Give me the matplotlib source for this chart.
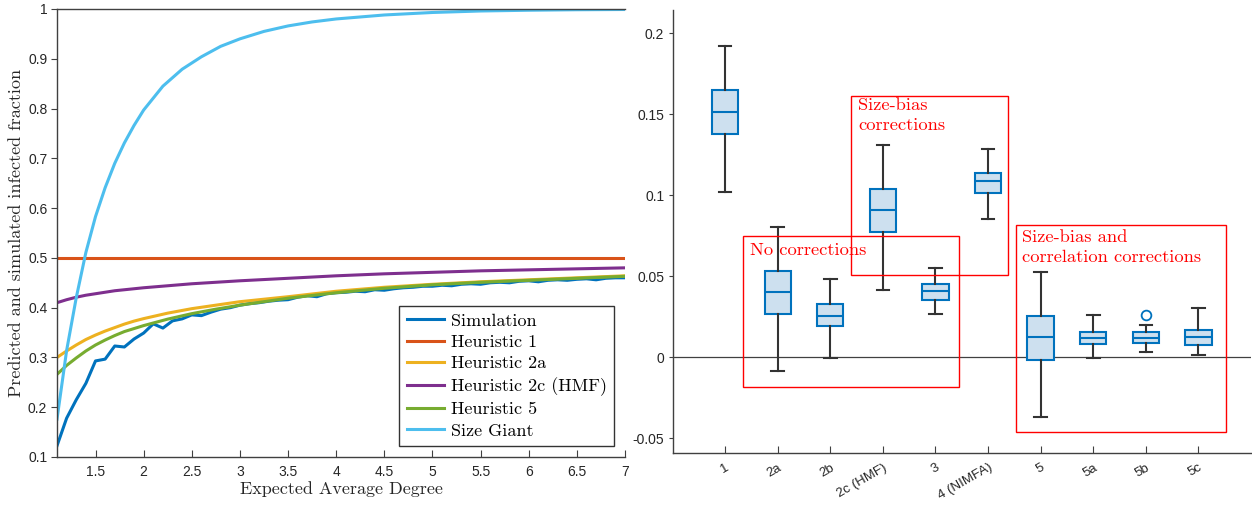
import matplotlib
matplotlib.use("Agg")
import matplotlib.pyplot as plt
from matplotlib.patches import Rectangle
from matplotlib.ticker import FixedLocator, FixedFormatter

plt.rcParams['axes.unicode_minus'] = False
plt.rcParams['font.family'] = ['Liberation Sans', 'DejaVu Sans']

SERIF = 'cmr10'

# ---------------- Left panel data ----------------
sim_x = [1.1, 1.2, 1.3, 1.4, 1.5, 1.6, 1.7, 1.8, 1.9, 2.0,
         2.1, 2.2, 2.3, 2.4, 2.5, 2.6, 2.7, 2.8, 2.9, 3.0,
         3.1, 3.2, 3.3, 3.4, 3.5, 3.6, 3.7, 3.8, 3.9, 4.0,
         4.1, 4.2, 4.3, 4.4, 4.5, 4.6, 4.7, 4.8, 4.9, 5.0,
         5.1, 5.2, 5.3, 5.4, 5.5, 5.6, 5.7, 5.8, 5.9, 6.0,
         6.1, 6.2, 6.3, 6.4, 6.5, 6.6, 6.7, 6.8, 6.9, 7.0]
simulation = [0.1225, 0.178, 0.215, 0.248, 0.293, 0.2966, 0.323, 0.321, 0.337, 0.349,
              0.3675, 0.359, 0.3735, 0.3775, 0.3855, 0.384, 0.391, 0.397, 0.400, 0.405,
              0.408, 0.410, 0.413, 0.415, 0.416, 0.421, 0.424, 0.422, 0.428, 0.430,
              0.431, 0.433, 0.432, 0.436, 0.435, 0.438, 0.440, 0.441, 0.443, 0.443,
              0.445, 0.444, 0.447, 0.448, 0.447, 0.450, 0.451, 0.450, 0.453, 0.454,
              0.452, 0.455, 0.456, 0.455, 0.457, 0.458, 0.456, 0.459, 0.460, 0.460]

curve_x = [1.1, 1.2, 1.3, 1.4, 1.5, 1.6, 1.7, 1.8, 1.9, 2.0,
           2.25, 2.5, 2.75, 3.0, 3.5, 4.0, 4.5, 5.0, 5.5, 6.0, 6.5, 7.0]
heuristic_1 = [0.5] * len(curve_x)
heuristic_2a = [0.300, 0.313, 0.325, 0.336, 0.345, 0.353, 0.360, 0.367, 0.373, 0.378,
                0.389, 0.398, 0.405, 0.412, 0.422, 0.433, 0.441, 0.447, 0.452, 0.456, 0.460, 0.464]
heuristic_2c = [0.410, 0.416, 0.421, 0.425, 0.428, 0.431, 0.434, 0.436, 0.438, 0.440,
                0.444, 0.448, 0.451, 0.454, 0.459, 0.464, 0.468, 0.471, 0.474, 0.476, 0.478, 0.480]
heuristic_5 = [0.266, 0.284, 0.299, 0.313, 0.325, 0.335, 0.344, 0.352, 0.358, 0.364,
               0.377, 0.388, 0.397, 0.405, 0.419, 0.430, 0.439, 0.446, 0.451, 0.455, 0.459, 0.463]

giant_x = [1.1, 1.2, 1.3, 1.4, 1.5, 1.6, 1.7, 1.8, 1.9, 2.0,
           2.2, 2.4, 2.6, 2.8, 3.0, 3.25, 3.5, 3.75, 4.0, 4.5, 5.0, 5.5, 6.0, 6.5, 7.0]
size_giant = [0.176, 0.314, 0.420, 0.511, 0.583, 0.641, 0.690, 0.731, 0.766, 0.797,
              0.845, 0.879, 0.904, 0.925, 0.940, 0.955, 0.966, 0.974, 0.980, 0.988,
              0.993, 0.996, 0.9975, 0.9985, 0.999]

left_xticks = [1.5, 2, 2.5, 3, 3.5, 4, 4.5, 5, 5.5, 6, 6.5, 7]
left_xticklabels = ['1.5', '2', '2.5', '3', '3.5', '4', '4.5', '5', '5.5', '6', '6.5', '7']
left_yticks = [0.1, 0.2, 0.3, 0.4, 0.5, 0.6, 0.7, 0.8, 0.9, 1.0]
left_yticklabels = ['0.1', '0.2', '0.3', '0.4', '0.5', '0.6', '0.7', '0.8', '0.9', '1']

# ---------------- Right panel data ----------------
box_labels = ['1', '2a', '2b', '2c (HMF)', '3', '4 (NIMFA)', '5', '5a', '5b', '5c']
whis_hi = [0.192, 0.0806, 0.0483, 0.131, 0.0553, 0.1285, 0.0526, 0.0262, 0.0198, 0.0303]
q3 = [0.165, 0.0534, 0.0326, 0.104, 0.0450, 0.1140, 0.0254, 0.0157, 0.0155, 0.0169]
median = [0.1514, 0.0404, 0.0256, 0.0908, 0.0408, 0.1091, 0.0124, 0.0118, 0.0120, 0.0124]
q1 = [0.1378, 0.0266, 0.0192, 0.0772, 0.0351, 0.1017, -0.0019, 0.0080, 0.0087, 0.0074]
whis_lo = [0.1023, -0.0087, -0.0004, 0.0417, 0.0264, 0.0856, -0.0369, -0.0006, 0.0033, 0.0014]
outliers = [[], [], [], [], [], [], [], [], [0.026], []]

right_yticks = [-0.05, 0, 0.05, 0.1, 0.15, 0.2]
right_yticklabels = ['-0.05', '0', '0.05', '0.1', '0.15', '0.2']

# ---------------- Colors ----------------
C_SIM = '#0072BD'
C_H1 = '#D95319'
C_H2A = '#EDB120'
C_H2C = '#7E2F8E'
C_H5 = '#77AC30'
C_GIANT = '#4DBEEE'
AX_COL = '#404040'

fig = plt.figure(figsize=(12.52, 5.05), dpi=100)

# ---------------- Left panel ----------------
ax1 = fig.add_axes([57/1252, (505-457)/505, (625-57)/1252, (457-9)/505])
lw = 2.2
ax1.plot(sim_x, simulation, color=C_SIM, lw=lw, label='Simulation')
ax1.plot(curve_x, heuristic_1, color=C_H1, lw=lw, label='Heuristic 1')
ax1.plot(curve_x, heuristic_2a, color=C_H2A, lw=lw, label='Heuristic 2a')
ax1.plot(curve_x, heuristic_2c, color=C_H2C, lw=lw, label='Heuristic 2c (HMF)')
ax1.plot(curve_x, heuristic_5, color=C_H5, lw=lw, label='Heuristic 5')
ax1.plot(giant_x, size_giant, color=C_GIANT, lw=lw, label='Size Giant')
ax1.set_xlim(1.1, 7)
ax1.set_ylim(0.1, 1.0)
ax1.xaxis.set_major_locator(FixedLocator(left_xticks))
ax1.xaxis.set_major_formatter(FixedFormatter(left_xticklabels))
ax1.yaxis.set_major_locator(FixedLocator(left_yticks))
ax1.yaxis.set_major_formatter(FixedFormatter(left_yticklabels))
ax1.tick_params(axis='x', direction='in', length=5, width=0.8, color=AX_COL, labelsize=10, labelcolor='#262626', pad=6)
ax1.tick_params(axis='y', direction='out', length=4, width=0.8, color=AX_COL, labelsize=10, labelcolor='#262626', pad=3)
ax1.spines['right'].set_visible(False)
for s in ['left', 'bottom', 'top']:
    ax1.spines[s].set_color(AX_COL)
    ax1.spines[s].set_linewidth(1.0)
ax1.set_xlabel('Expected Average Degree', fontfamily=SERIF, fontsize=13, color='#262626', labelpad=1)
ax1.set_ylabel('Predicted and simulated infected fraction', fontfamily=SERIF, fontsize=13, color='#262626', labelpad=3)
leg = ax1.legend(loc='lower right', bbox_to_anchor=((614-57)/568, (457-446)/448),
                 prop={'family': SERIF, 'size': 13}, fancybox=False, framealpha=1,
                 edgecolor='#333333', handlelength=2.1, handletextpad=0.35,
                 labelspacing=0.32, borderpad=0.4, borderaxespad=0)
leg.get_frame().set_linewidth(1.0)

# ---------------- Right panel ----------------
ax2 = fig.add_axes([672.5/1252, (505-453.3)/505, (1251-672.5)/1252, (453.3-9.5)/505])
positions = list(range(1, len(box_labels) + 1))
stats = []
for i in range(len(box_labels)):
    stats.append({'med': median[i], 'q1': q1[i], 'q3': q3[i],
                  'whislo': whis_lo[i], 'whishi': whis_hi[i],
                  'fliers': outliers[i], 'label': box_labels[i]})
ax2.axhline(0, color='#404040', lw=0.9, zorder=1)
ax2.bxp(stats, positions=positions, widths=0.5, capwidths=0.24, patch_artist=True,
        boxprops=dict(facecolor='#cde0ef', edgecolor=C_SIM, linewidth=1.5),
        medianprops=dict(color=C_SIM, linewidth=1.5),
        whiskerprops=dict(color='#333333', linewidth=1.5),
        capprops=dict(color='#333333', linewidth=1.5),
        flierprops=dict(marker='o', markerfacecolor='none', markeredgecolor=C_SIM,
                        markersize=7, markeredgewidth=1.3),
        zorder=3)
ax2.set_xlim(0, 11)
ax2.set_ylim(-0.0593, 0.2147)
ax2.set_xticks(positions)
ax2.set_xticklabels(box_labels, rotation=30, ha='right', rotation_mode='anchor')
ax2.yaxis.set_major_locator(FixedLocator(right_yticks))
ax2.yaxis.set_major_formatter(FixedFormatter(right_yticklabels))
ax2.tick_params(axis='x', direction='in', length=5, width=0.8, color=AX_COL, labelsize=9.5, labelcolor='#262626', pad=6)
ax2.tick_params(axis='y', direction='out', length=3, width=0.8, color=AX_COL, labelsize=10, labelcolor='#262626', pad=3)
ax2.spines['right'].set_visible(False)
ax2.spines['top'].set_visible(False)
for s in ['left', 'bottom']:
    ax2.spines[s].set_color(AX_COL)
    ax2.spines[s].set_linewidth(1.0)

# annotation boxes (data coordinates)
rects = [(1.34, -0.0186, 5.45, 0.0747),
         (3.40, 0.0506, 6.38, 0.161),
         (6.53, -0.0462, 10.52, 0.0817)]
for (x0, y0, x1, y1) in rects:
    ax2.add_patch(Rectangle((x0, y0), x1 - x0, y1 - y0, fill=False, edgecolor='#ff0000',
                            linewidth=1.0, zorder=4))
ax2.text(1.48, 0.0705, 'No corrections', color='#ff0000', fontfamily=SERIF, fontsize=13.3,
         va='top', ha='left', zorder=5)
ax2.text(3.53, 0.1600, 'Size-bias\ncorrections', color='#ff0000', fontfamily=SERIF,
         fontsize=13.3, va='top', ha='left', linespacing=1.38, zorder=5)
ax2.text(6.65, 0.0785, 'Size-bias and\ncorrelation corrections', color='#ff0000',
         fontfamily=SERIF, fontsize=13.3, va='top', ha='left', linespacing=1.38, zorder=5)

fig.savefig('out.png', dpi=100)
